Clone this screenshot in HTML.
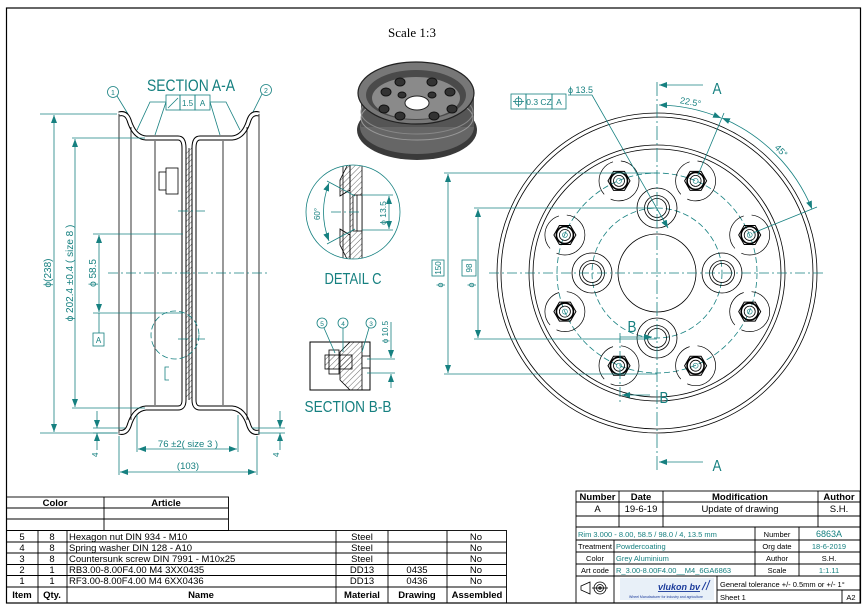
<!DOCTYPE html>
<html><head><meta charset="utf-8"><style>
html,body{margin:0;padding:0;background:#fff;}
svg{display:block;}
text{font-family:"Liberation Sans",sans-serif;}
.t{fill:#168080;}
.ts{stroke:#168080;fill:none;stroke-width:0.8;}
.k{stroke:#000;fill:none;stroke-width:0.8;}
.cl{stroke:#168080;stroke-width:0.7;stroke-dasharray:10,3,2,3;fill:none;}
.dc{stroke:#168080;stroke-width:0.8;stroke-dasharray:6,3;fill:none;}
.tb{font-size:9.5px;fill:#000;}
.tbb{font-size:9.5px;font-weight:bold;fill:#000;}
</style></head><body>
<svg width="865" height="608" viewBox="0 0 865 608" xmlns="http://www.w3.org/2000/svg">
<defs>
<marker id="ar" markerWidth="8" markerHeight="6" refX="8" refY="3" orient="auto-start-reverse" markerUnits="userSpaceOnUse"><path d="M0,0 L8,3 L0,6 z" fill="#168080"/></marker>
<g id="bolt">
<circle r="20" fill="none" stroke="#000" stroke-width="0.7" stroke-dasharray="40,8"/>
<polygon points="11,0 5.5,9.5 -5.5,9.5 -11,0 -5.5,-9.5 5.5,-9.5" fill="none" stroke="#000" stroke-width="1"/>
<circle r="8.5" fill="none" stroke="#000" stroke-width="1.6"/>
<circle r="5.5" fill="none" stroke="#000" stroke-width="0.8"/>
<circle r="2.5" fill="none" stroke="#168080" stroke-width="0.6"/>
</g>
<g id="hole">
<circle r="20" fill="none" stroke="#000" stroke-width="0.8"/>
<circle r="12.5" fill="none" stroke="#000" stroke-width="0.8"/>
<circle r="9.5" fill="none" stroke="#000" stroke-width="0.8"/>
</g>
<pattern id="hat" width="4" height="4" patternUnits="userSpaceOnUse" patternTransform="rotate(45)"><line x1="0" y1="0" x2="0" y2="4" stroke="#000" stroke-width="0.6"/></pattern>
</defs>

<!-- frame -->
<rect x="6.5" y="8" width="854" height="595" fill="none" stroke="#000" stroke-width="1.2"/>

<text x="412" y="37" text-anchor="middle" style="font-family:'Liberation Serif',serif;font-size:13px">Scale 1:3</text>

<!-- 3D render -->
<g>
<ellipse cx="417" cy="130" rx="60" ry="30" fill="#3a3a3a"/>
<ellipse cx="417" cy="127" rx="57" ry="27" fill="#666"/>
<rect x="361" y="95" width="113" height="32" fill="#555"/>
<ellipse cx="417" cy="118" rx="56" ry="22" fill="none" stroke="#999" stroke-width="1"/>
<ellipse cx="417" cy="112" rx="56" ry="22" fill="none" stroke="#888" stroke-width="1"/>
<ellipse cx="416" cy="93" rx="58" ry="31" fill="#777" stroke="#222" stroke-width="1.2"/>
<ellipse cx="416" cy="95" rx="50" ry="25" fill="#4a4a4a"/>
<ellipse cx="416" cy="98" rx="44" ry="21" fill="#8a8a8a"/>
<ellipse cx="417" cy="103" rx="12" ry="7" fill="#fff" stroke="#222"/>
<g fill="#333" stroke="#111">
<ellipse cx="400" cy="82" rx="5" ry="4"/><ellipse cx="432" cy="82" rx="5" ry="4"/>
<ellipse cx="386" cy="92" rx="5" ry="4"/><ellipse cx="450" cy="92" rx="5" ry="4"/>
<ellipse cx="384" cy="109" rx="5" ry="4"/><ellipse cx="452" cy="109" rx="5" ry="4"/>
<ellipse cx="400" cy="116" rx="5" ry="4"/><ellipse cx="434" cy="116" rx="5" ry="4"/>
<ellipse cx="402" cy="95" rx="4" ry="3"/><ellipse cx="432" cy="95" rx="4" ry="3"/>
</g>
</g>

<!-- SECTION A-A -->
<text class="t" x="191" y="91" text-anchor="middle" font-size="17" textLength="88" lengthAdjust="spacingAndGlyphs">SECTION A-A</text>
<g>
<rect x="166" y="95" width="14" height="15" class="ts"/><rect x="180" y="95" width="15" height="15" class="ts"/><rect x="195" y="95" width="15" height="15" class="ts"/>
<line x1="168" y1="108" x2="178" y2="98" class="ts"/>
<text class="t" x="187.5" y="106" text-anchor="middle" font-size="8">1.5</text>
<text class="t" x="202.5" y="106" text-anchor="middle" font-size="8">A</text>
<polyline points="166,102 150,102 137,130" class="ts"/><line x1="166" y1="102" x2="155" y2="135" class="ts"/>
<polyline points="210,102 226,102 240,130" class="ts"/><line x1="210" y1="102" x2="220" y2="135" class="ts"/>
<circle cx="113" cy="92" r="5.5" class="ts"/><text class="t" x="113" y="95" text-anchor="middle" font-size="7">1</text>
<line x1="117" y1="96" x2="128" y2="114" class="ts"/>
<circle cx="266" cy="90" r="5.5" class="ts"/><text class="t" x="266" y="93" text-anchor="middle" font-size="7">2</text>
<line x1="262" y1="94" x2="252" y2="114" class="ts"/>
</g>
<g id="halfprof">
<path d="M119,114 Q126,112 129,120 Q134,137 146,138 L178,138 Q184,138 184,148 L184,400 Q184,408 178,408 L146,408 Q134,409 129,426 Q126,434 119,432" fill="none" stroke="#000" stroke-width="5"/>
<path d="M119,114 Q126,112 129,120 Q134,137 146,138 L178,138 Q184,138 184,148 L184,400 Q184,408 178,408 L146,408 Q134,409 129,426 Q126,434 119,432" fill="none" stroke="#fff" stroke-width="3"/>
<line x1="119" y1="114" x2="119" y2="433" class="k"/>
<line x1="131" y1="127" x2="131" y2="420" class="k"/>
<line x1="155" y1="141" x2="155" y2="405" class="k"/>
</g>
<use href="#halfprof" transform="translate(378,0) scale(-1,1)"/>
<rect x="186" y="148" width="6" height="252" fill="url(#hat)"/>
<line x1="189" y1="148" x2="189" y2="400" class="k"/>
<rect x="159" y="172" width="9" height="18" fill="#fff" stroke="#000" stroke-width="0.8"/>
<rect x="166" y="168" width="12" height="26" fill="#fff" stroke="#000" stroke-width="0.8"/>
<line x1="178" y1="211" x2="205" y2="211" class="cl"/>
<line x1="178" y1="339" x2="205" y2="339" class="cl"/>
<line x1="108" y1="273" x2="268" y2="273" class="cl"/>
<circle cx="175" cy="335" r="24" class="dc" stroke-dasharray="8,2,2,2"/>
<polyline points="169,367 165,367 165,380 169,380" class="ts"/>
<!-- dims left -->
<line x1="40" y1="114" x2="117" y2="114" class="ts"/>
<line x1="40" y1="433" x2="117" y2="433" class="ts"/>
<line x1="54" y1="115" x2="54" y2="432" class="ts" marker-start="url(#ar)" marker-end="url(#ar)"/>
<text class="t" font-size="10" transform="translate(51,273) rotate(-90)" text-anchor="middle">ϕ(238)</text>
<line x1="72" y1="138" x2="145" y2="138" class="ts"/>
<line x1="72" y1="408" x2="145" y2="408" class="ts"/>
<line x1="75" y1="139" x2="75" y2="407" class="ts" marker-start="url(#ar)" marker-end="url(#ar)"/>
<text class="t" font-size="10" transform="translate(73,273) rotate(-90)" text-anchor="middle">ϕ 202.4 ±0.4 ( size 8 )</text>
<line x1="93" y1="234" x2="183" y2="234" class="ts"/>
<line x1="93" y1="313" x2="183" y2="313" class="ts"/>
<line x1="99" y1="235" x2="99" y2="312" class="ts" marker-start="url(#ar)" marker-end="url(#ar)"/>
<text class="t" font-size="10" transform="translate(96,273) rotate(-90)" text-anchor="middle">ϕ 58.5</text>
<line x1="99" y1="313" x2="99" y2="333" class="ts"/>
<rect x="93" y="333" width="11" height="13" class="ts"/><text class="t" x="98.5" y="343" text-anchor="middle" font-size="8">A</text>
<line x1="137" y1="415" x2="137" y2="452" class="ts"/><line x1="238" y1="415" x2="238" y2="452" class="ts"/>
<line x1="138" y1="449" x2="237" y2="449" class="ts" marker-start="url(#ar)" marker-end="url(#ar)"/>
<text class="t" x="188" y="447" text-anchor="middle" font-size="9.5">76 ±2( size 3 )</text>
<line x1="119" y1="436" x2="119" y2="475" class="ts"/><line x1="257" y1="436" x2="257" y2="475" class="ts"/>
<line x1="120" y1="472" x2="256" y2="472" class="ts" marker-start="url(#ar)" marker-end="url(#ar)"/>
<text class="t" x="188" y="469" text-anchor="middle" font-size="9.5">(103)</text>
<line x1="93" y1="428" x2="125" y2="428" class="ts"/><line x1="93" y1="433" x2="118" y2="433" class="ts"/>
<line x1="97" y1="411" x2="97" y2="428" class="ts" marker-end="url(#ar)"/><line x1="97" y1="450" x2="97" y2="433" class="ts" marker-end="url(#ar)"/>
<text class="t" font-size="8" transform="translate(98,457) rotate(-90)">4</text>
<line x1="252" y1="428" x2="285" y2="428" class="ts"/><line x1="258" y1="433" x2="285" y2="433" class="ts"/>
<line x1="280" y1="411" x2="280" y2="428" class="ts" marker-end="url(#ar)"/><line x1="280" y1="450" x2="280" y2="433" class="ts" marker-end="url(#ar)"/>
<text class="t" font-size="8" transform="translate(279,457) rotate(-90)">4</text>

<!-- DETAIL C -->
<g>
<clipPath id="dcc"><circle cx="353" cy="212" r="47"/></clipPath>
<g clip-path="url(#dcc)">
<rect x="350" y="160" width="12" height="110" fill="url(#hat)" stroke="#000" stroke-width="0.8"/>
<path d="M350,160 L350,190 L340,196 L340,180 L345,170 Z" fill="url(#hat)" stroke="#000" stroke-width="0.8"/>
<path d="M350,265 L350,235 L340,229 L340,245 L345,255 Z" fill="url(#hat)" stroke="#000" stroke-width="0.8"/>
<line x1="343" y1="160" x2="343" y2="270" class="k"/>
<rect x="353" y="195" width="9" height="36" fill="#fff" stroke="#000" stroke-width="0.8"/>
<line x1="357" y1="195" x2="357" y2="231" class="k"/>
</g>
<circle cx="353" cy="212" r="47" class="ts"/>
<line x1="331" y1="212" x2="362" y2="212" class="cl"/>
<line x1="362" y1="195" x2="393" y2="195" class="ts"/><line x1="362" y1="230" x2="393" y2="230" class="ts"/>
<line x1="389" y1="196" x2="389" y2="229" class="ts" marker-start="url(#ar)" marker-end="url(#ar)"/>
<text class="t" font-size="8.5" transform="translate(386,213) rotate(-90)" text-anchor="middle">ϕ 13.5</text>
<line x1="355" y1="196" x2="327" y2="181" class="ts"/><line x1="355" y1="229" x2="327" y2="244" class="ts"/>
<path d="M329,183 Q318,212 329,241" class="ts" marker-start="url(#ar)" marker-end="url(#ar)"/>
<text class="t" font-size="8" transform="translate(320,214) rotate(-90)" text-anchor="middle">60°</text>
<text class="t" x="353" y="284" text-anchor="middle" font-size="16" textLength="57" lengthAdjust="spacingAndGlyphs">DETAIL C</text>
</g>

<!-- SECTION B-B -->
<g>
<rect x="310" y="342" width="60" height="48" fill="none" stroke="#000" stroke-width="1"/>
<path d="M350,342 L362,342 L362,390 L350,390 L340,380 L340,352 Z" fill="url(#hat)" stroke="#000" stroke-width="0.8"/>
<rect x="325" y="355" width="27" height="14" fill="url(#hat)" stroke="#000" stroke-width="0.8"/>
<rect x="329" y="350" width="10" height="24" fill="none" stroke="#000" stroke-width="0.8"/>
<rect x="362" y="356" width="8" height="12" fill="#fff" stroke="#000" stroke-width="0.8"/>
<line x1="367" y1="359" x2="395" y2="359" class="ts"/><line x1="367" y1="373" x2="395" y2="373" class="ts"/>
<line x1="391" y1="342" x2="391" y2="358" class="ts" marker-end="url(#ar)"/><line x1="391" y1="388" x2="391" y2="374" class="ts" marker-end="url(#ar)"/>
<line x1="391" y1="322" x2="391" y2="342" class="ts"/>
<text class="t" font-size="8" transform="translate(388,332) rotate(-90)" text-anchor="middle">ϕ 10.5</text>
<circle cx="322" cy="323" r="5" class="ts"/><text class="t" x="322" y="326" text-anchor="middle" font-size="6.5">5</text>
<circle cx="343" cy="323" r="5" class="ts"/><text class="t" x="343" y="326" text-anchor="middle" font-size="6.5">4</text>
<circle cx="371" cy="323" r="5" class="ts"/><text class="t" x="371" y="326" text-anchor="middle" font-size="6.5">3</text>
<line x1="324" y1="328" x2="335" y2="353" class="ts"/><line x1="343" y1="328" x2="343" y2="352" class="ts"/><line x1="369" y1="328" x2="362" y2="352" class="ts"/>
<text class="t" x="348" y="412" text-anchor="middle" font-size="16" textLength="87" lengthAdjust="spacingAndGlyphs">SECTION B-B</text>
</g>

<!-- Right view -->
<g>
<circle cx="657" cy="273" r="160" class="k"/>
<circle cx="657" cy="273" r="156" class="k"/>
<circle cx="657" cy="273" r="128" class="k"/>
<circle cx="657" cy="273" r="124" class="k"/>
<circle cx="657" cy="273" r="39" class="k"/>
<circle cx="657" cy="273" r="100" class="dc" stroke-dasharray="14,3,2,3"/>
<circle cx="657" cy="273" r="65" class="dc" stroke-dasharray="14,3,2,3"/>
<use href="#hole" x="657" y="208"/><use href="#hole" x="722" y="273"/><use href="#hole" x="657" y="338"/><use href="#hole" x="592" y="273"/>
<use href="#bolt" x="695.6" y="180.9"/><use href="#bolt" x="749.7" y="235"/><use href="#bolt" x="749.7" y="311.6"/><use href="#bolt" x="695.6" y="365.7"/>
<use href="#bolt" x="619" y="365.7"/><use href="#bolt" x="564.9" y="311.6"/><use href="#bolt" x="564.9" y="235"/><use href="#bolt" x="619" y="180.9"/>
<line x1="489" y1="273" x2="826" y2="273" class="cl"/>
<line x1="657" y1="82" x2="657" y2="472" class="ts" stroke-dasharray="14,3,2,3"/>
<!-- A arrows -->
<line x1="703" y1="85" x2="659" y2="85" class="ts" stroke-width="1" marker-end="url(#ar)"/>
<text class="t" x="717" y="94" text-anchor="middle" font-size="16" textLength="9" lengthAdjust="spacingAndGlyphs">A</text>
<line x1="703" y1="462" x2="659" y2="462" class="ts" stroke-width="1" marker-end="url(#ar)"/>
<text class="t" x="717" y="471" text-anchor="middle" font-size="16" textLength="9" lengthAdjust="spacingAndGlyphs">A</text>
<!-- B markers -->
<line x1="620" y1="333" x2="620" y2="402" class="ts" stroke-dasharray="10,3,2,3"/>
<line x1="620" y1="337" x2="652" y2="337" class="ts" stroke-width="1" marker-end="url(#ar)"/>
<text class="t" x="632" y="332" text-anchor="middle" font-size="16" textLength="9" lengthAdjust="spacingAndGlyphs">B</text>
<line x1="650" y1="395" x2="622" y2="395" class="ts" stroke-width="1" marker-end="url(#ar)"/>
<text class="t" x="664" y="403" text-anchor="middle" font-size="16" textLength="9" lengthAdjust="spacingAndGlyphs">B</text>
<!-- angle dims -->
<path d="M659,105 A168,168 0 0 1 721,118" class="ts" marker-start="url(#ar)" marker-end="url(#ar)"/>
<text class="t" font-size="9" transform="translate(690,105) rotate(10)" text-anchor="middle">22.5°</text>
<path d="M722,118 A168,168 0 0 1 812,209" class="ts" marker-start="url(#ar)" marker-end="url(#ar)"/>
<text class="t" font-size="9" transform="translate(779,153) rotate(45)" text-anchor="middle">45°</text>
<line x1="698" y1="175" x2="724" y2="113" class="ts"/>
<line x1="753" y1="233" x2="817" y2="207" class="ts"/>
<!-- Ø13.5 -->
<text class="t" x="568" y="93" font-size="9">ϕ 13.5</text>
<polyline points="568,95 592,95 668,228" class="ts" marker-end="url(#ar)"/>
<!-- tolerance box -->
<rect x="511" y="94" width="15" height="15" class="ts"/><rect x="526" y="94" width="26" height="15" class="ts"/><rect x="552" y="94" width="14" height="15" class="ts"/>
<circle cx="518.5" cy="101.5" r="3.5" class="ts"/><line x1="513" y1="101.5" x2="524" y2="101.5" class="ts"/><line x1="518.5" y1="96" x2="518.5" y2="107" class="ts"/>
<text class="t" x="539" y="105" text-anchor="middle" font-size="8.5">0.3 CZ</text>
<text class="t" x="559" y="105" text-anchor="middle" font-size="8.5">A</text>
<!-- Ø150, Ø98 -->
<line x1="444" y1="173" x2="657" y2="173" class="ts"/><line x1="444" y1="374" x2="657" y2="374" class="ts"/>
<line x1="448" y1="174" x2="448" y2="373" class="ts" marker-start="url(#ar)" marker-end="url(#ar)"/>
<rect x="432" y="260" width="12" height="16" fill="#fff" class="ts"/>
<text class="t" font-size="8" transform="translate(441,268) rotate(-90)" text-anchor="middle">150</text>
<text class="t" font-size="9" transform="translate(443,285) rotate(-90)" text-anchor="middle">ϕ</text>
<line x1="474" y1="208" x2="657" y2="208" class="ts"/><line x1="474" y1="339" x2="657" y2="339" class="ts"/>
<line x1="478" y1="209" x2="478" y2="338" class="ts" marker-start="url(#ar)" marker-end="url(#ar)"/>
<rect x="462" y="260" width="14" height="16" fill="#fff" class="ts"/>
<text class="t" font-size="8" transform="translate(472,268) rotate(-90)" text-anchor="middle">98</text>
<text class="t" font-size="9" transform="translate(474,285) rotate(-90)" text-anchor="middle">ϕ</text>
</g>

<!-- left tables -->
<g stroke="#000" stroke-width="0.9" fill="none">
<rect x="6.5" y="497" width="222" height="33.5"/>
<line x1="6.5" y1="508" x2="228.5" y2="508"/><line x1="6.5" y1="519" x2="228.5" y2="519"/>
<line x1="104" y1="497" x2="104" y2="530.5"/>
<rect x="6.5" y="530.5" width="500" height="72.5"/>
<line x1="6.5" y1="542" x2="506.5" y2="542"/><line x1="6.5" y1="553" x2="506.5" y2="553"/><line x1="6.5" y1="564.5" x2="506.5" y2="564.5"/><line x1="6.5" y1="575.5" x2="506.5" y2="575.5"/><line x1="6.5" y1="587" x2="506.5" y2="587"/>
<line x1="38" y1="530.5" x2="38" y2="603"/><line x1="67" y1="530.5" x2="67" y2="603"/><line x1="336" y1="530.5" x2="336" y2="603"/><line x1="388" y1="530.5" x2="388" y2="603"/><line x1="447" y1="530.5" x2="447" y2="603"/>
</g>
<text class="tbb" x="55" y="506" text-anchor="middle">Color</text>
<text class="tbb" x="166" y="506" text-anchor="middle">Article</text>
<g class="tb">
<text x="22" y="540" text-anchor="middle" class="tb">5</text><text x="52" y="540" text-anchor="middle" class="tb">8</text><text x="69" y="540" class="tb">Hexagon nut DIN 934 - M10</text><text x="362" y="540" text-anchor="middle" class="tb">Steel</text><text x="476" y="540" text-anchor="middle" class="tb">No</text>
<text x="22" y="551" text-anchor="middle" class="tb">4</text><text x="52" y="551" text-anchor="middle" class="tb">8</text><text x="69" y="551" class="tb">Spring washer DIN 128 - A10</text><text x="362" y="551" text-anchor="middle" class="tb">Steel</text><text x="476" y="551" text-anchor="middle" class="tb">No</text>
<text x="22" y="562" text-anchor="middle" class="tb">3</text><text x="52" y="562" text-anchor="middle" class="tb">8</text><text x="69" y="562" class="tb">Countersunk screw DIN 7991 - M10x25</text><text x="362" y="562" text-anchor="middle" class="tb">Steel</text><text x="476" y="562" text-anchor="middle" class="tb">No</text>
<text x="22" y="573" text-anchor="middle" class="tb">2</text><text x="52" y="573" text-anchor="middle" class="tb">1</text><text x="69" y="573" class="tb">RB3.00-8.00F4.00    M4  3XX0435</text><text x="362" y="573" text-anchor="middle" class="tb">DD13</text><text x="417" y="573" text-anchor="middle" class="tb">0435</text><text x="476" y="573" text-anchor="middle" class="tb">No</text>
<text x="22" y="584" text-anchor="middle" class="tb">1</text><text x="52" y="584" text-anchor="middle" class="tb">1</text><text x="69" y="584" class="tb">RF3.00-8.00F4.00    M4  6XX0436</text><text x="362" y="584" text-anchor="middle" class="tb">DD13</text><text x="417" y="584" text-anchor="middle" class="tb">0436</text><text x="476" y="584" text-anchor="middle" class="tb">No</text>
</g>
<text class="tbb" x="22" y="598" text-anchor="middle">Item</text><text class="tbb" x="52" y="598" text-anchor="middle">Qty.</text><text class="tbb" x="201" y="598" text-anchor="middle">Name</text><text class="tbb" x="362" y="598" text-anchor="middle">Material</text><text class="tbb" x="417" y="598" text-anchor="middle">Drawing</text><text class="tbb" x="477" y="598" text-anchor="middle">Assembled</text>

<!-- title block -->
<g stroke="#000" stroke-width="0.9" fill="none">
<rect x="576" y="491" width="284" height="112"/>
<line x1="576" y1="502" x2="860" y2="502"/><line x1="576" y1="516" x2="860" y2="516"/><line x1="576" y1="527" x2="860" y2="527"/>
<line x1="619" y1="491" x2="619" y2="527"/><line x1="663" y1="491" x2="663" y2="527"/><line x1="818" y1="491" x2="818" y2="527"/>
<line x1="576" y1="540" x2="860" y2="540"/><line x1="576" y1="552" x2="860" y2="552"/><line x1="576" y1="564" x2="860" y2="564"/><line x1="576" y1="576" x2="860" y2="576"/>
<line x1="614" y1="540" x2="614" y2="603"/><line x1="755" y1="527" x2="755" y2="576"/><line x1="799" y1="527" x2="799" y2="576"/>
<line x1="717" y1="576" x2="717" y2="603"/><line x1="717" y1="590" x2="860" y2="590"/><line x1="842" y1="590" x2="842" y2="603"/>
</g>
<text class="tbb" x="597.5" y="500" text-anchor="middle">Number</text><text class="tbb" x="641" y="500" text-anchor="middle">Date</text><text class="tbb" x="740" y="500" text-anchor="middle">Modification</text><text class="tbb" x="839" y="500" text-anchor="middle">Author</text>
<text class="tb" x="597.5" y="512" text-anchor="middle">A</text><text class="tb" x="641" y="512" text-anchor="middle">19-6-19</text><text class="tb" x="740" y="512" text-anchor="middle">Update of drawing</text><text class="tb" x="839" y="512" text-anchor="middle">S.H.</text>
<g font-size="7.5">
<text class="t" x="578" y="537" font-size="7.5">Rim 3.000 - 8.00,  58.5 / 98.0 / 4,  13.5 mm</text>
<text x="777" y="537" text-anchor="middle" font-size="7.5">Number</text><text class="t" x="829" y="537" text-anchor="middle" font-size="9">6863A</text>
<text x="595" y="549" text-anchor="middle" font-size="7.5">Treatment</text><text class="t" x="616" y="549" font-size="7.5">Powdercoating</text>
<text x="777" y="549" text-anchor="middle" font-size="7.5">Org date</text><text class="t" x="829" y="549" text-anchor="middle" font-size="7.5">18-6-2019</text>
<text x="595" y="561" text-anchor="middle" font-size="7.5">Color</text><text class="t" x="616" y="561" font-size="7.5">Grey Aluminium</text>
<text x="777" y="561" text-anchor="middle" font-size="7.5">Author</text><text x="829" y="561" text-anchor="middle" font-size="7.5">S.H.</text>
<text x="595" y="573" text-anchor="middle" font-size="7.5">Art code</text><text class="t" x="616" y="573" font-size="7.5">R_3.00-8.00F4.00__M4_6GA6863</text>
<text x="777" y="573" text-anchor="middle" font-size="7.5">Scale</text><text class="t" x="829" y="573" text-anchor="middle" font-size="7.5">1:1.11</text>
<text x="720" y="587" font-size="7.5">General tolerance +/- 0.5mm or +/- 1°</text>
<text x="720" y="600" font-size="7.5">Sheet 1</text><text x="851" y="600" text-anchor="middle" font-size="7.5">A2</text>
</g>
<g stroke="#000" stroke-width="0.8" fill="none">
<path d="M581,586 L590,582 L590,594 L581,590 Z"/><circle cx="600" cy="588" r="6"/><circle cx="600" cy="588" r="3.5"/><circle cx="600" cy="588" r="1.2"/><line x1="592" y1="588" x2="608" y2="588"/>
</g>
<rect x="620" y="578" width="94" height="22" fill="#e8f0f8"/>
<text x="700" y="590" text-anchor="end" font-size="9" font-style="italic" font-weight="bold" fill="#1a3a9a" style="text-decoration:underline">vlukon bv</text>
<path d="M702,590 L706,582 M706,590 L710,580" stroke="#1a3a9a" stroke-width="1"/>
<text x="666" y="598" text-anchor="middle" font-size="3.5" fill="#1a3a9a">Wheel Manufacturer for industry and agriculture</text>
</svg>
</body></html>
